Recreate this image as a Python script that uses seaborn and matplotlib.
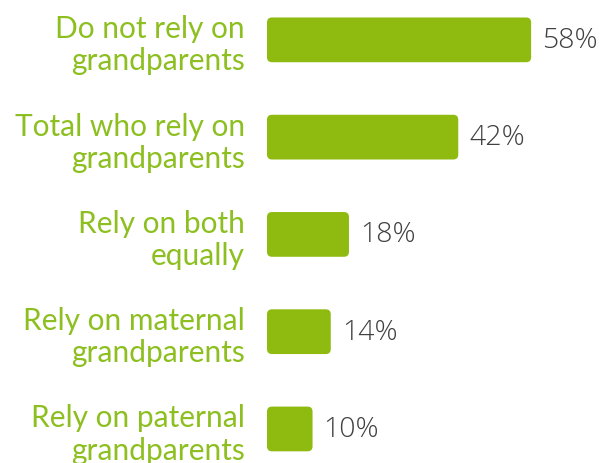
import matplotlib
matplotlib.use("Agg")
import matplotlib.pyplot as plt
import seaborn as sns
import pandas as pd
from matplotlib.patches import FancyBboxPatch

categories = ["Do not rely on\ngrandparents", "Total who rely on\ngrandparents",
              "Rely on both\nequally", "Rely on maternal\ngrandparents",
              "Rely on paternal\ngrandparents"]
values = [58, 42, 18, 14, 10]
value_labels = ["58%", "42%", "18%", "14%", "10%"]

sns.set_theme(style="white")
plt.rcParams['font.family'] = ['Lato', 'DejaVu Sans']

df = pd.DataFrame({"cat": categories, "val": values})

fig = plt.figure(figsize=(6.14, 4.64), dpi=100)
ax = fig.add_axes([267/614, 0, 347/614, 1])
sns.barplot(data=df, y="cat", x="val", orient="h", color="#8fba0f",
            saturation=1, width=0.46, ax=ax)
ax.set_xlim(0, 76.2)
ax.set_ylim(4.35, -0.42)

# replace bars with rounded ones
xr = 76.2 / 347.0   # data units per px (x)
yr = 4.77 / 464.0   # data units per px (y)
for p in list(ax.patches):
    x0, y0 = p.get_x(), p.get_y()
    w, h = p.get_width(), p.get_height()
    fc = p.get_facecolor()
    p.remove()
    rad = 5 * xr
    fb = FancyBboxPatch((x0, y0), w, h,
                        boxstyle=f"round,pad=0,rounding_size={rad}",
                        mutation_aspect=yr / xr, facecolor=fc, edgecolor="none")
    ax.add_patch(fb)

for i, (v, lab) in enumerate(zip(values, value_labels)):
    ax.annotate(lab, (v, i), xytext=(8, 0), textcoords="offset points",
                va="center", ha="left", fontsize=20.5, color="#404040",
                family=["Open Sans", "DejaVu Sans"], fontweight="light")

ax.set_xlabel("")
ax.set_ylabel("")
ax.set_xticks([])
ax.tick_params(axis="y", length=0, pad=16)
for t in ax.get_yticklabels():
    t.set_color("#8cbf1f")
    t.set_fontsize(21.5)
    t.set_linespacing(1.18)
    t.set_ha("right")
for s in ax.spines.values():
    s.set_visible(False)

fig.savefig("out.png", dpi=100)
